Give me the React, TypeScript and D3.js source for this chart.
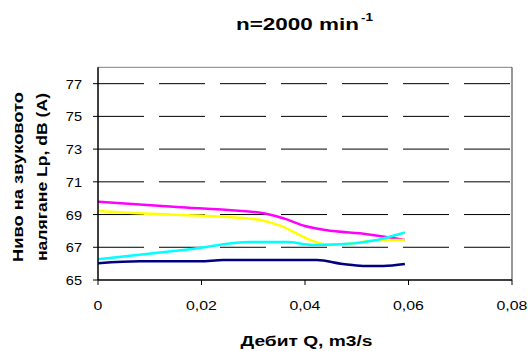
import React, { useRef, useEffect } from "react";
import * as d3 from "d3";

// Дебит Q (m3/s) and sound pressure level Lp (dB(A)) for each curve
const navyQ = [0, 0.0081, 0.0197, 0.0242, 0.0423, 0.0473, 0.0512, 0.0551, 0.0593];
const navyLp = [66.02, 66.14, 66.14, 66.22, 66.22, 65.98, 65.86, 65.86, 65.98];

const magentaQ = [0, 0.016, 0.032, 0.036, 0.04, 0.044, 0.052, 0.0593];
const magentaLp = [69.79, 69.45, 69.08, 68.75, 68.3, 68.05, 67.8, 67.45];

const yellowQ = [0, 0.0049, 0.0294, 0.0352, 0.041, 0.0448, 0.0473, 0.0551, 0.0593];
const yellowLp = [69.22, 69.12, 68.75, 68.32, 67.45, 67.14, 67.18, 67.45, 67.45];

const cyanQ = [0, 0.0178, 0.0294, 0.0365, 0.0415, 0.0468, 0.0539, 0.0593];
const cyanLp = [66.27, 66.88, 67.32, 67.32, 67.14, 67.18, 67.45, 67.9];

const xTicks = [0, 0.02, 0.04, 0.06, 0.08];
const yTicks = [65, 67, 69, 71, 73, 75, 77];

const series = [
  { q: navyQ, lp: navyLp, color: "#000080" },
  { q: magentaQ, lp: magentaLp, color: "#FF00FF" },
  { q: yellowQ, lp: yellowLp, color: "#FFFF00" },
  { q: cyanQ, lp: cyanLp, color: "#00FFFF" },
];

const FONT = "'Liberation Sans', Arial, sans-serif";

export default function App() {
  const svgRef = useRef<SVGSVGElement>(null);

  useEffect(() => {
    if (!svgRef.current) return;
    const svg = d3.select(svgRef.current);
    svg.selectAll("*").remove();

    const width = 528;
    const height = 351;
    const plot = { left: 98, right: 512, top: 67.3, bottom: 280 };

    const x = d3.scaleLinear().domain([0, 0.08]).range([plot.left, plot.right]);
    const y = d3.scaleLinear().domain([65, 78]).range([plot.bottom, plot.top]);

    svg.append("rect").attr("width", width).attr("height", height).attr("fill", "#fff");

    // stretch text along its direction (the source renders wide glyphs)
    const stretch = (sel: d3.Selection<SVGTextElement, any, any, any>, k: number) => {
      sel.each(function () {
        const w = this.getComputedTextLength();
        d3.select(this).attr("textLength", w * k).attr("lengthAdjust", "spacingAndGlyphs");
      });
    };

    // gridlines
    svg.append("g")
      .selectAll("line")
      .data(yTicks.filter(d => d > 65))
      .enter()
      .append("line")
      .attr("x1", plot.left)
      .attr("x2", plot.right)
      .attr("y1", d => y(d))
      .attr("y2", d => y(d))
      .attr("stroke", "#000")
      .attr("stroke-width", 1)
      .attr("stroke-dasharray", "46,15");

    // plot frame (top + right)
    svg.append("line")
      .attr("x1", plot.left).attr("x2", plot.right)
      .attr("y1", plot.top).attr("y2", plot.top)
      .attr("stroke", "#808080").attr("stroke-width", 1);
    svg.append("line")
      .attr("x1", plot.right).attr("x2", plot.right)
      .attr("y1", plot.top).attr("y2", plot.bottom)
      .attr("stroke", "#333").attr("stroke-width", 1);

    // lines
    const line = d3.line<[number, number]>()
      .x(d => x(d[0]))
      .y(d => y(d[1]))
      .curve(d3.curveMonotoneX);

    series.forEach(s => {
      const pts = s.q.map((q, i) => [q, s.lp[i]] as [number, number]);
      svg.append("path")
        .datum(pts)
        .attr("fill", "none")
        .attr("stroke", s.color)
        .attr("stroke-width", 2.5)
        .attr("d", line);
    });

    // axes
    svg.append("line")
      .attr("x1", plot.left).attr("x2", plot.left)
      .attr("y1", plot.top).attr("y2", plot.bottom)
      .attr("stroke", "#000").attr("stroke-width", 1.5);
    svg.append("line")
      .attr("x1", plot.left).attr("x2", plot.right)
      .attr("y1", plot.bottom).attr("y2", plot.bottom)
      .attr("stroke", "#000").attr("stroke-width", 1.5);

    svg.append("g")
      .selectAll("line")
      .data(yTicks)
      .enter()
      .append("line")
      .attr("x1", plot.left - 5).attr("x2", plot.left)
      .attr("y1", d => y(d)).attr("y2", d => y(d))
      .attr("stroke", "#000");

    svg.append("g")
      .selectAll("line")
      .data(xTicks)
      .enter()
      .append("line")
      .attr("x1", d => x(d)).attr("x2", d => x(d))
      .attr("y1", plot.bottom).attr("y2", plot.bottom + 5)
      .attr("stroke", "#000");

    const yLabels = svg.append("g")
      .selectAll("text")
      .data(yTicks)
      .enter()
      .append("text")
      .attr("x", 82)
      .attr("y", d => y(d) + 5)
      .attr("text-anchor", "end")
      .style("font-family", FONT)
      .style("font-size", "13px")
      .style("fill", "#000")
      .text(d => String(d));
    stretch(yLabels as any, 1.12);

    const xLabels = svg.append("g")
      .selectAll("text")
      .data(xTicks)
      .enter()
      .append("text")
      .attr("x", d => x(d))
      .attr("y", 310)
      .attr("text-anchor", "middle")
      .style("font-family", FONT)
      .style("font-size", "13px")
      .style("fill", "#000")
      .text(d => (d === 0 ? "0" : d.toFixed(2).replace(".", ",")));
    stretch(xLabels as any, 1.22);

    // title
    svg.append("text")
      .attr("x", 236)
      .attr("y", 30)
      .attr("textLength", 123)
      .attr("lengthAdjust", "spacingAndGlyphs")
      .style("font-family", FONT)
      .style("font-size", "17px")
      .style("font-weight", "bold")
      .text("n=2000 min");
    svg.append("text")
      .attr("x", 361)
      .attr("y", 21)
      .attr("textLength", 12)
      .attr("lengthAdjust", "spacingAndGlyphs")
      .style("font-family", FONT)
      .style("font-size", "11px")
      .style("font-weight", "bold")
      .text("-1");

    // x axis title
    svg.append("text")
      .attr("x", 240.5)
      .attr("y", 346)
      .attr("textLength", 132)
      .attr("lengthAdjust", "spacingAndGlyphs")
      .style("font-family", FONT)
      .style("font-size", "14px")
      .style("font-weight", "bold")
      .text("Дебит Q, m3/s");

    // y axis title, two rotated lines
    const yTitle = [
      { text: "Ниво на звуковото", bx: 23, len: 170 },
      { text: "налягане Lp, dB (A)", bx: 47, len: 168 },
    ];
    yTitle.forEach(t => {
      svg.append("text")
        .attr("transform", `translate(${t.bx},177) rotate(-90)`)
        .attr("text-anchor", "middle")
        .attr("textLength", t.len)
        .attr("lengthAdjust", "spacingAndGlyphs")
        .style("font-family", FONT)
        .style("font-size", "14px")
        .style("font-weight", "bold")
        .text(t.text);
    });
  }, []);

  return (
    <svg
      ref={svgRef}
      width={528}
      height={351}
      style={{ position: "absolute", left: 0, top: 0, display: "block" }}
    />
  );
}
